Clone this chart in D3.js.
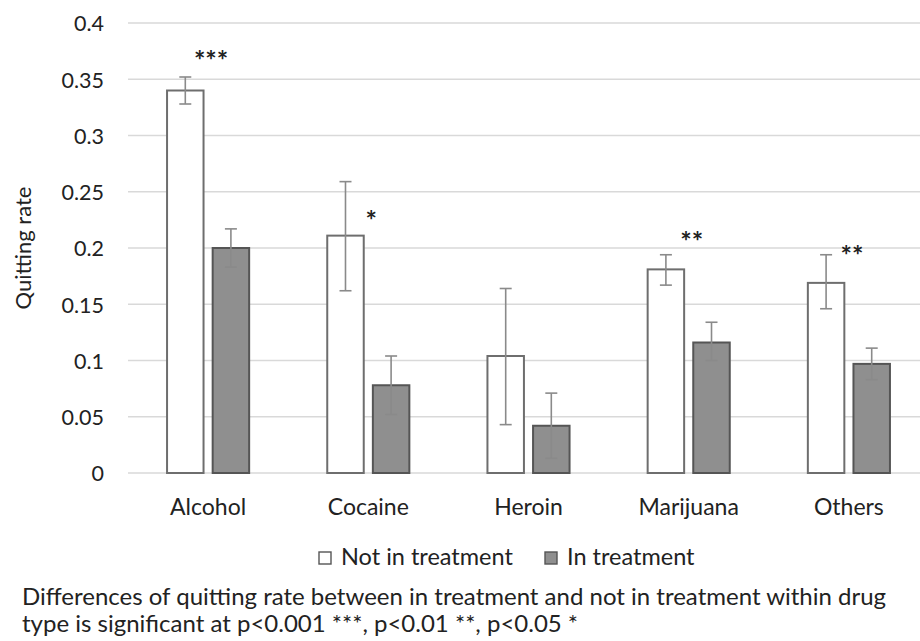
<!DOCTYPE html>
<html><head><meta charset="utf-8">
<script src="https://cdn.jsdelivr.net/npm/d3@7"></script>
<style>body{margin:0;background:#fff;} text{font-family:Lato, "Open Sans", sans-serif; fill:#222;}</style>
</head><body>
<svg id="c" width="920" height="641"></svg>
<script>
const categories = ["Alcohol","Cocaine","Heroin","Marijuana","Others"];
const seriesNames = ["Not in treatment","In treatment"];
const notInTreatment = [0.340, 0.211, 0.104, 0.181, 0.169];
const notInLow = [0.328, 0.162, 0.043, 0.167, 0.146];
const notInHigh = [0.352, 0.259, 0.164, 0.194, 0.194];
const inTreatment = [0.200, 0.078, 0.042, 0.116, 0.097];
const inLow = [0.183, 0.052, 0.013, 0.100, 0.083];
const inHigh = [0.217, 0.104, 0.071, 0.134, 0.111];
const stars = ["***","*","","**","**"];
const starY = [0.3716, 0.2293, 0, 0.2107, 0.199];
const yTicks = [0,0.05,0.1,0.15,0.2,0.25,0.3,0.35,0.4];
const yLabel = "Quitting rate";
const note1 = "Differences of quitting rate between in treatment and not in treatment within drug";
const note2 = "type is significant at p<0.001 ***, p<0.01 **, p<0.05 *";

const svg = d3.select("#c");
const x0 = d3.scaleBand().domain(categories).range([128, 929]).paddingInner(0.4875).paddingOuter(0.24375);
const x1 = d3.scaleBand().domain(seriesNames).range([0, x0.bandwidth()]).paddingInner(0.2);
const y = d3.scaleLinear().domain([0, 0.4]).range([473, 23]);
const fills = {"Not in treatment":"#ffffff","In treatment":"#8f8f8f"};

// gridlines
svg.append("g").selectAll("line").data(yTicks).join("line")
  .attr("x1",128).attr("x2",920).attr("y1",d=>y(d)).attr("y2",d=>y(d))
  .attr("stroke","#d9d9d9").attr("stroke-width",1.3);

// y axis labels
const yAxis = d3.axisLeft(y).tickValues(yTicks).tickSize(0).tickPadding(0).tickFormat(d=>String(+d.toFixed(2)));
const ya = svg.append("g").attr("transform","translate(104,0)").call(yAxis);
ya.select(".domain").remove();
ya.selectAll("text").style("font-size","21.5px").style("font-family","Lato, sans-serif").attr("fill","#222").attr("dy","0.36em");

svg.append("text").attr("transform","translate(31,248) rotate(-90)").attr("text-anchor","middle")
  .style("font-size","22px").text(yLabel);

const rows = categories.map((c,i)=>({c, vals:[
  {s:seriesNames[0], v:notInTreatment[i], lo:notInLow[i], hi:notInHigh[i]},
  {s:seriesNames[1], v:inTreatment[i], lo:inLow[i], hi:inHigh[i]}]}));

const g = svg.append("g").selectAll("g").data(rows).join("g").attr("transform",d=>`translate(${x0(d.c)},0)`);
g.selectAll("rect").data(d=>d.vals).join("rect")
  .attr("x",d=>x1(d.s)).attr("width",x1.bandwidth())
  .attr("y",d=>y(d.v)).attr("height",d=>y(0)-y(d.v))
  .attr("fill",d=>fills[d.s]).attr("stroke",d=>d.s===seriesNames[0]?"#6e6e6e":"#555").attr("stroke-width",2);

const eb = g.selectAll("g.eb").data(d=>d.vals).join("g").attr("class","eb")
  .attr("stroke","#8a8a8a").attr("stroke-width",1.6);
eb.append("line").attr("x1",d=>x1(d.s)+x1.bandwidth()/2).attr("x2",d=>x1(d.s)+x1.bandwidth()/2)
  .attr("y1",d=>y(d.lo)).attr("y2",d=>y(d.hi));
eb.append("line").attr("x1",d=>x1(d.s)+x1.bandwidth()/2-6).attr("x2",d=>x1(d.s)+x1.bandwidth()/2+6)
  .attr("y1",d=>y(d.lo)).attr("y2",d=>y(d.lo));
eb.append("line").attr("x1",d=>x1(d.s)+x1.bandwidth()/2-6).attr("x2",d=>x1(d.s)+x1.bandwidth()/2+6)
  .attr("y1",d=>y(d.hi)).attr("y2",d=>y(d.hi));

// stars
svg.append("g").selectAll("text").data(categories).join("text")
  .attr("x",d=>x0(d)+x0.bandwidth()/2+3).attr("y",(d,i)=>y(starY[i]))
  .attr("text-anchor","middle").attr("dy","0.57em").style("font-size","27px").style("font-weight","bold")
  .text((d,i)=>stars[i]);

// x axis labels
const xa = svg.append("g").attr("transform","translate(0,473)").call(d3.axisBottom(x0).tickSize(0).tickPadding(0));
xa.select(".domain").remove();
xa.selectAll("text").attr("dy",null).attr("y",42).style("font-size","23px").style("font-family","Lato, sans-serif").attr("fill","#222");

// legend
const leg = [{s:seriesNames[0], x:319},{s:seriesNames[1], x:545}];
const lg = svg.append("g").selectAll("g").data(leg).join("g").attr("transform",d=>`translate(${d.x},552)`);
lg.append("rect").attr("x",0).attr("y",0).attr("width",12).attr("height",12)
  .attr("fill",d=>fills[d.s]).attr("stroke","#555").attr("stroke-width",1.4);
lg.append("text").attr("x",22).attr("y",13).style("font-size","23.5px").text(d=>d.s);

svg.append("text").attr("x",22).attr("y",605).style("font-size","24px").text(note1);
svg.append("text").attr("x",22).attr("y",632).style("font-size","24px").text(note2);
</script>
</body></html>
